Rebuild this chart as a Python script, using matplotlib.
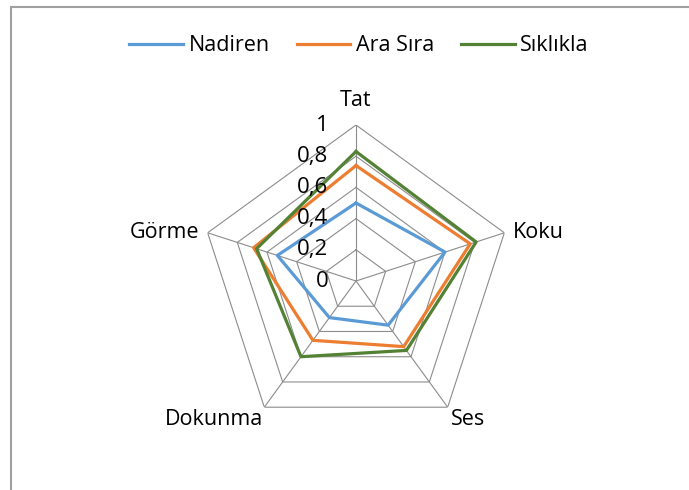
import numpy as np
import matplotlib
matplotlib.use("Agg")
import matplotlib.pyplot as plt
from matplotlib.lines import Line2D

plt.rcParams['font.family'] = ['Open Sans', 'DejaVu Sans']

kategoriler = ["Tat", "Koku", "Ses", "Dokunma", "Görme"]
nadiren = [0.50, 0.60, 0.35, 0.29, 0.53]
ara_sira = [0.74, 0.77, 0.52, 0.47, 0.69]
siklikla = [0.83, 0.81, 0.55, 0.60, 0.67]
seri_adlari = ["Nadiren", "Ara Sıra", "Sıklıkla"]
seviyeler = [0.2, 0.4, 0.6, 0.8, 1.0]
seviye_etiket = ["0", "0,2", "0,4", "0,6", "0,8", "1"]
renkler = ["#5B9BD5", "#ED7D31", "#548235"]

W, H = 689, 490
fig = plt.figure(figsize=(W/100, H/100), dpi=100)

# center (356,281), radius 156 px
cx, cy, R = 356, 281, 156
ax = fig.add_axes([(cx-R)/W, (H-cy-R)/H, 2*R/W, 2*R/H], projection="polar")
ax.set_theta_offset(np.pi/2)
ax.set_theta_direction(-1)
ax.set_ylim(0, 1)
ax.set_xticks([])
ax.set_yticks([])
ax.grid(False)
ax.spines["polar"].set_visible(False)
ax.patch.set_alpha(0)

n = len(kategoriler)
aci = np.linspace(0, 2*np.pi, n, endpoint=False)
aci_k = np.append(aci, aci[0])

# pentagon grid
for s in seviyeler:
    ax.plot(aci_k, [s]*(n+1), color="#8c8c8c", lw=0.8, zorder=1)
for a in aci:
    ax.plot([a, a], [0, 1], color="#8c8c8c", lw=0.8, zorder=1)

for vals, ad, c in zip([nadiren, ara_sira, siklikla], seri_adlari, renkler):
    v = np.append(vals, vals[0])
    ax.plot(aci_k, v, color=c, lw=2.3, label=ad, zorder=3, solid_joinstyle="round")

# radial labels, right of vertical axis
for i, et in enumerate(seviye_etiket):
    ax.annotate(et, xy=(0, i*0.2), xytext=(-20, 0), textcoords="offset points",
                ha="right", va="center", fontsize=16, color="black")

# category labels
ofs = [(0, 10, "center", "bottom"), (6, 0, "left", "center"), (2, -1, "left", "top"),
       (-1, -1, "right", "top"), (-6, 0, "right", "center")]
for a, k, (dx, dy, ha, va) in zip(aci, kategoriler, ofs):
    ax.annotate(k, xy=(a, 1), xytext=(dx, dy), textcoords="offset points",
                ha=ha, va=va, fontsize=15.5, color="black")

fig.legend(loc="center", bbox_to_anchor=(0.521, 0.907), ncol=3, frameon=False,
           fontsize=15.5, handlelength=2.5, handletextpad=0.25, columnspacing=1.25)

# chart border (left and top only visible)
fig.add_artist(Line2D([11/W, 11/W], [0, 1-7/H], transform=fig.transFigure, color="#a0a0a0", lw=1.5))
fig.add_artist(Line2D([11/W, 1], [1-7/H, 1-7/H], transform=fig.transFigure, color="#a0a0a0", lw=1.5))

fig.savefig("out.png", dpi=100)
